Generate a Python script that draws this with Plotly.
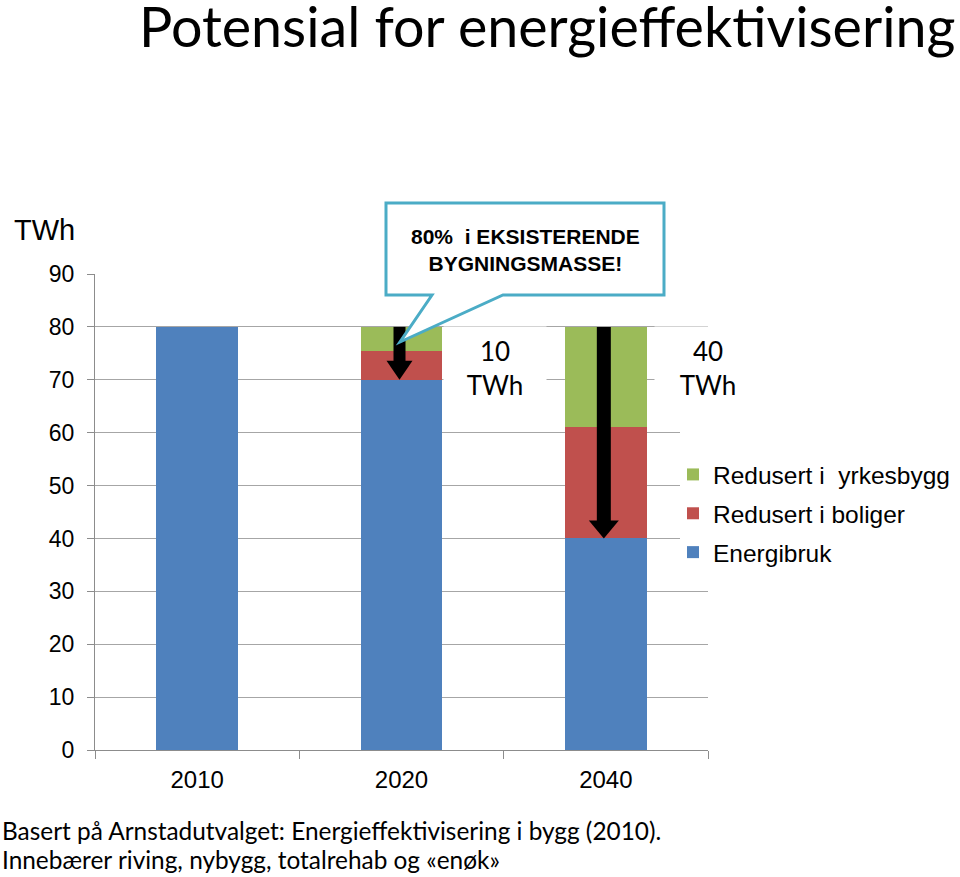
import plotly.graph_objects as go

# ---- data ----
years = ["2010", "2020", "2040"]
energibruk = [80, 70, 40]
redusert_boliger = [0, 5.5, 21]
redusert_yrkesbygg = [0, 4.5, 19]
y_ticks = [0, 10, 20, 30, 40, 50, 60, 70, 80, 90]

series_names = ["Energibruk", "Redusert i boliger", "Redusert i\u00a0\u00a0yrkesbygg"]
series_colors = ["#4F81BD", "#C0504D", "#9BBB59"]
legend_ranks = [3, 2, 1]

title_text = "Potensial for energieffektivisering"
callout_text = "<b>80%\u00a0\u00a0i EKSISTERENDE<br>BYGNINGSMASSE!</b>"
source_lines = ["Basert på Arnstadutvalget: Energieffektivisering i bygg (2010).",
                "Innebærer riving, nybygg, totalrehab og «enøk»"]

# ---- layout geometry (pixels) ----
W, H = 960, 877
L, R, T, B = 95, 708, 274, 750
Y_MAX = 90
PPC = (R - L) / len(years)   # pixels per category
PPY = (B - T) / Y_MAX        # pixels per y unit

xpos = list(range(len(years)))
boundaries = [i - 0.5 for i in range(len(years) + 1)]


def xp(px):
    return (px - L) / (R - L)


def yp(py):
    return (B - py) / (B - T)


fig = go.Figure()
for vals, name, col, rk in zip([energibruk, redusert_boliger, redusert_yrkesbygg],
                               series_names, series_colors, legend_ranks):
    fig.add_trace(go.Bar(x=xpos, y=vals, name=name, marker=dict(color=col, line=dict(width=0)),
                         legendgroup=name, legendrank=rk, hoverinfo="skip"))

shapes = []
annotations = []

# white cover behind legend (hides gridlines there)
shapes.append(dict(type="rect", xref="paper", yref="paper", x0=xp(680), x1=xp(R + 2),
                   y0=yp(578), y1=yp(422), fillcolor="white", line=dict(width=0), layer="above"))

# arrows (from total down to remaining energy use)
for i in xpos:
    total = energibruk[i] + redusert_boliger[i] + redusert_yrkesbygg[i]
    red = total - energibruk[i]
    if red <= 0:
        continue
    half = (6 if red < 20 else 7) / PPC
    headhalf = (13 if red < 20 else 15) / PPC
    headlen = (19 if red < 20 else 18) / PPY
    tip = energibruk[i]
    base = tip + headlen
    cx = i - 2 / PPC
    shapes.append(dict(type="rect", xref="x", yref="y",
                       x0=cx - half, x1=cx + half, y0=base - 0.1, y1=total,
                       fillcolor="black", line=dict(width=0), layer="above"))
    shapes.append(dict(type="path", xref="x", yref="y",
                       path=f"M {cx - headhalf:.5f},{base:.3f} L {cx + headhalf:.5f},{base:.3f} L {cx:.5f},{tip:.3f} Z",
                       fillcolor="black", line=dict(width=0), layer="above"))

# callout box with pointer
pts = [(386, 203), (664, 203), (664, 295), (503, 295), (400, 342), (432, 295), (386, 295)]
path = "M " + " L ".join(f"{xp(a):.5f},{yp(b):.5f}" for a, b in pts) + " Z"
shapes.append(dict(type="path", xref="paper", yref="paper", path=path,
                   fillcolor="white", line=dict(color="#4BACC6", width=3), layer="above"))

annotations.append(dict(text=callout_text, xref="paper", yref="paper", x=xp(525), y=yp(250),
                        showarrow=False, font=dict(family="Liberation Sans, Arial", size=21, color="black"),
                        xanchor="center", yanchor="middle"))

# reduction labels
label_boxes = {1: (445, 545), 2: (656, 760)}
for i in xpos:
    total = energibruk[i] + redusert_boliger[i] + redusert_yrkesbygg[i]
    red = total - energibruk[i]
    if red <= 0:
        continue
    x0, x1 = label_boxes[i]
    annotations.append(dict(text=f"{red:g}<br>TWh", xref="paper", yref="paper",
                            x=xp((x0 + x1) / 2), y=yp(368), xanchor="center", yanchor="middle",
                            width=x1 - x0, height=80, bgcolor="white", showarrow=False,
                            font=dict(family="Lato", size=26, color="black")))

# axis unit label
annotations.append(dict(text="TWh", xref="paper", yref="paper", x=xp(12), y=yp(230),
                        xanchor="left", yanchor="middle", showarrow=False,
                        font=dict(family="Liberation Sans, Arial", size=29, color="black")))

# title
annotations.append(dict(text=title_text, xref="paper", yref="paper", x=xp(137), y=yp(-10),
                        xanchor="left", yanchor="top", showarrow=False,
                        font=dict(family="Lato", size=55.6, color="black")))

# source text
for k, line in enumerate(source_lines):
    annotations.append(dict(text=line, xref="paper", yref="paper", x=xp(0), y=yp(830 + 29 * k),
                            xanchor="left", yanchor="middle", showarrow=False,
                            font=dict(family="Lato", size=24.4, color="black")))

fig.update_layout(
    width=W, height=H,
    margin=dict(l=L, r=W - R, t=T, b=H - B, pad=0, autoexpand=False),
    paper_bgcolor="white", plot_bgcolor="white",
    barmode="stack", bargap=0.6,
    showlegend=True,
    legend=dict(x=xp(673), y=yp(452), xanchor="left", yanchor="top",
                traceorder="grouped", tracegroupgap=4,
                bgcolor="rgba(0,0,0,0)",
                font=dict(family="Liberation Sans, Arial", size=24.5, color="black")),
    shapes=shapes, annotations=annotations,
    font=dict(family="Liberation Sans, Arial", color="black"),
)
fig.update_xaxes(range=[boundaries[0], boundaries[-1]], tickmode="array", tickvals=xpos, ticktext=years,
                 showline=True, linecolor="#8C8C8C", linewidth=1,
                 ticks="outside", ticklen=8, tickcolor="rgba(0,0,0,0)",
                 ticklabelstandoff=0,
                 minor=dict(tickmode="array", tickvals=boundaries, ticks="outside", ticklen=8,
                            tickcolor="#8C8C8C", showgrid=False),
                 showgrid=False, zeroline=False,
                 tickfont=dict(family="Liberation Sans, Arial", size=24, color="black"),
                 fixedrange=True)
fig.update_yaxes(range=[0, Y_MAX], tickvals=y_ticks, showline=True, linecolor="#8C8C8C", linewidth=1,
                 ticks="outside", ticklen=7, tickcolor="#8C8C8C",
                 showgrid=True, gridcolor="#A6A6A6", gridwidth=1, zeroline=False,
                 ticklabelstandoff=8,
                 tickfont=dict(family="Liberation Sans, Arial", size=23, color="black"),
                 fixedrange=True)

fig.write_html("out.html", config={"displayModeBar": False},
               post_script="document.body.style.margin='0';document.body.style.padding='0';")
